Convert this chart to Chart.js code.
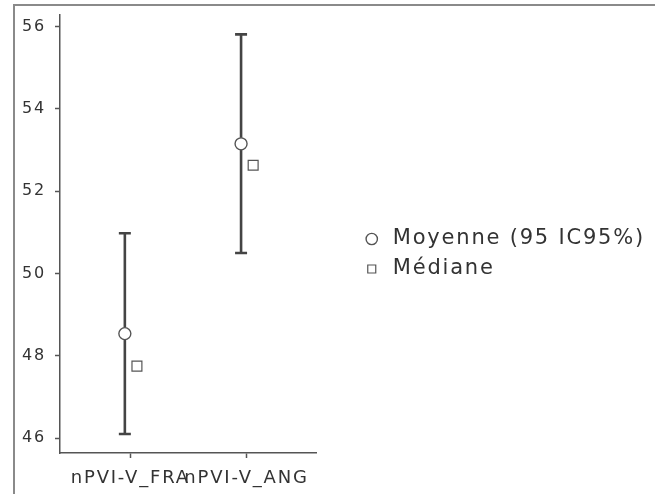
<!DOCTYPE html>
<html>
<head>
<meta charset="utf-8">
<script src="https://cdn.jsdelivr.net/npm/chart.js@4/dist/chart.umd.min.js"></script>
<style>
  html, body { margin: 0; padding: 0; background: #fff; }
  #frame {
    position: absolute; left: 13px; top: 4px;
    width: 640px; height: 488px;
    border-top: 2px solid #8a8a8a; border-left: 2px solid #8a8a8a;
  }
  #wrap { position: relative; width: 640px; height: 488px; }
</style>
</head>
<body>
<div id="frame"><div id="wrap"><canvas id="c"></canvas></div></div>
<script>
// ---- data ----
const categories = ['nPVI-V_FRA', 'nPVI-V_ANG'];
const means      = [48.54, 53.15];
const ciLower    = [46.10, 50.50];
const ciUpper    = [50.98, 55.81];
const medians    = [47.75, 52.63];
const yTicks     = [46, 48, 50, 52, 54, 56];
const legendLabels = ['Moyenne (95 IC95%)', 'Médiane'];

// ---- style / layout ----
const meanDodge = -0.047, medianDodge = 0.057;
const barColor = '#444444';
const ink = '#333333';
const FONT = "'DejaVu Sans', sans-serif";
const LS = '1.8px';

const errorSets = categories.map((c, i) => ({
  label: c + ' CI',
  data: [{x: i + 1 + meanDodge, y: ciLower[i]}, {x: i + 1 + meanDodge, y: ciUpper[i]}],
  showLine: true,
  borderColor: barColor,
  borderWidth: 2.6,
  pointStyle: 'line',
  pointRadius: 6,
  pointBorderWidth: 2.6,
  pointBorderColor: barColor,
  pointBackgroundColor: barColor,
  pointHoverRadius: 6,
  order: 3,
  isBar: true
}));

const meanSet = {
  label: legendLabels[0],
  data: means.map((v, i) => ({x: i + 1 + meanDodge, y: v})),
  showLine: false,
  pointStyle: 'circle',
  pointRadius: 6,
  pointHoverRadius: 6,
  pointBorderWidth: 1.4,
  pointBorderColor: '#555555',
  pointBackgroundColor: '#ffffff',
  borderColor: '#555555',
  backgroundColor: '#ffffff',
  order: 1
};
const medianSet = {
  label: legendLabels[1],
  data: medians.map((v, i) => ({x: i + 1 + medianDodge, y: v})),
  showLine: false,
  pointStyle: 'rect',
  pointRadius: 7,
  pointHoverRadius: 7,
  pointBorderWidth: 1.2,
  pointBorderColor: '#555555',
  pointBackgroundColor: '#ffffff',
  borderColor: '#555555',
  backgroundColor: '#ffffff',
  order: 2
};

const spacingPlugin = {
  id: 'spacing',
  beforeUpdate(chart) {
    const lg = chart.legend;
    if (lg && !lg.__wide) {
      lg.__wide = true;
      const fit = lg.fit;
      lg.fit = function () {
        const mw = this.maxWidth;
        this.maxWidth = 10000;
        fit.call(this);
        this.maxWidth = mw;
      };
    }
  },
  beforeLayout(chart) { chart.ctx.letterSpacing = LS; },
  beforeDraw(chart) { chart.ctx.letterSpacing = LS; }
};

const noEdgePad = s => { s.paddingTop = 0; s.paddingBottom = 0; s.paddingLeft = 0; s.paddingRight = 0; };

new Chart(document.getElementById('c'), {
  type: 'scatter',
  data: { datasets: [...errorSets, meanSet, medianSet] },
  plugins: [spacingPlugin],
  options: {
    responsive: true,
    maintainAspectRatio: false,
    animation: false,
    events: [],
    layout: { padding: { top: 8, left: 0, right: 0, bottom: 0 } },
    plugins: {
      tooltip: { enabled: false },
      legend: {
        position: 'right',
        align: 'center',
        labels: {
          usePointStyle: true,
          boxHeight: 8,
          boxWidth: 21,
          padding: 9,
          color: ink,
          font: { family: FONT, size: 21 },
          filter: (item, data) => !data.datasets[item.datasetIndex].isBar
        }
      }
    },
    scales: {
      x: {
        type: 'linear',
        min: 0.395,
        max: 2.6,
        afterBuildTicks: s => { s.ticks = categories.map((c, i) => ({value: i + 1})); },
        afterFit: s => { s.height = 41; noEdgePad(s); },
        ticks: {
          autoSkip: false,
          maxRotation: 0,
          minRotation: 0,
          padding: 10,
          color: ink,
          font: { family: FONT, size: 18 },
          callback: v => categories[Math.round(v) - 1] ?? ''
        },
        grid: { display: true, drawOnChartArea: false, drawTicks: true, tickLength: 5, tickWidth: 1.5, tickColor: '#555' },
        border: { display: true, color: '#555', width: 1.5 }
      },
      y: {
        type: 'linear',
        min: 45.64,
        max: 56.29,
        afterBuildTicks: s => { s.ticks = yTicks.map(v => ({value: v})); },
        afterFit: s => { s.width = 45; noEdgePad(s); },
        ticks: {
          padding: 9,
          color: ink,
          font: { family: FONT, size: 16 }
        },
        grid: { display: true, drawOnChartArea: false, drawTicks: true, tickLength: 5, tickWidth: 1.5, tickColor: '#555' },
        border: { display: true, color: '#555', width: 1.5 }
      },
      gap: {
        type: 'linear',
        position: 'right',
        min: 0, max: 1,
        ticks: { display: false },
        grid: { display: false, drawTicks: false },
        border: { display: false },
        afterFit: s => { s.width = 36; noEdgePad(s); }
      }
    }
  }
});
</script>
</body>
</html>
